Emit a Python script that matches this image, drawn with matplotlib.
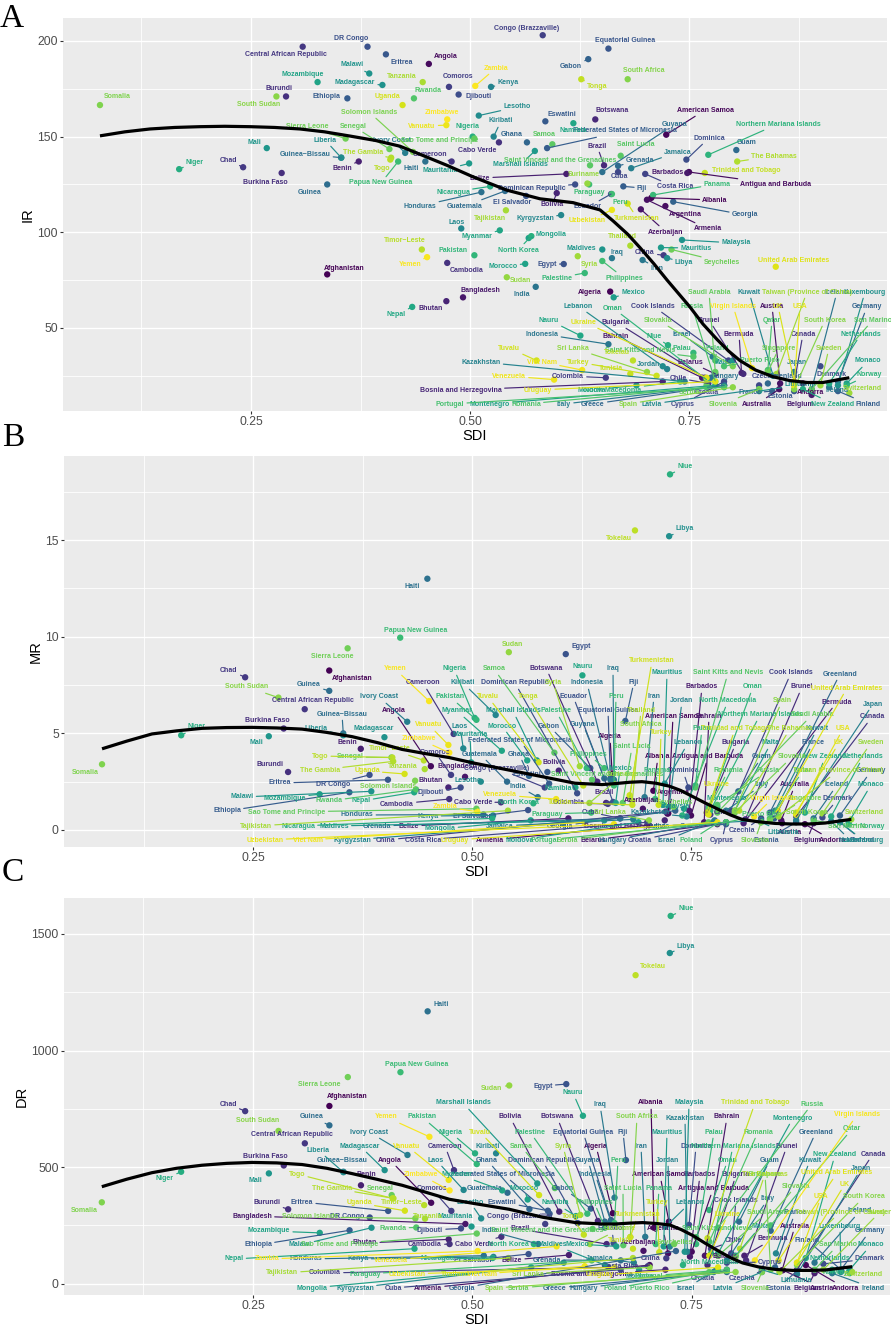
import math
import matplotlib
matplotlib.use("Agg")
import matplotlib.pyplot as plt

W, H = 891, 1326
plt.rcParams['font.family'] = ['Liberation Sans', 'DejaVu Sans']

countries = [
    "Afghanistan", "Albania", "Algeria", "American Samoa", "Andorra", "Angola", "Antigua and Barbuda", "Argentina", "Armenia", "Australia",
    "Austria", "Azerbaijan", "Bahrain", "Bangladesh", "Barbados", "Belarus", "Belgium", "Belize", "Benin", "Bermuda",
    "Bhutan", "Bolivia", "Bosnia and Herzegovina", "Botswana", "Brazil", "Brunei", "Bulgaria", "Burkina Faso", "Burundi", "Cabo Verde",
    "Cambodia", "Cameroon", "Canada", "Central African Republic", "Chad", "Chile", "China", "Colombia", "Comoros", "Congo (Brazzaville)",
    "Cook Islands", "Costa Rica", "Croatia", "Cuba", "Cyprus", "Czechia", "Denmark", "Djibouti", "Dominica", "Dominican Republic",
    "DR Congo", "Ecuador", "Egypt", "El Salvador", "Equatorial Guinea", "Eritrea", "Estonia", "Eswatini", "Ethiopia", "Federated States of Micronesia",
    "Fiji", "Finland", "France", "Gabon", "Georgia", "Germany", "Ghana", "Greece", "Greenland", "Grenada",
    "Guam", "Guatemala", "Guinea", "Guinea\u2212Bissau", "Guyana", "Haiti", "Honduras", "Hungary", "Iceland", "India",
    "Indonesia", "Iran", "Iraq", "Ireland", "Israel", "Italy", "Ivory Coast", "Jamaica", "Japan", "Jordan",
    "Kazakhstan", "Kenya", "Kiribati", "Kuwait", "Kyrgyzstan", "Laos", "Latvia", "Lebanon", "Lesotho", "Liberia",
    "Libya", "Lithuania", "Luxembourg", "Madagascar", "Malawi", "Malaysia", "Maldives", "Mali", "Malta", "Marshall Islands",
    "Mauritania", "Mauritius", "Mexico", "Moldova", "Monaco", "Mongolia", "Montenegro", "Morocco", "Mozambique", "Myanmar",
    "Namibia", "Nauru", "Nepal", "Netherlands", "New Zealand", "Nicaragua", "Niger", "Nigeria", "Niue", "North Korea",
    "North Macedonia", "Northern Mariana Islands", "Norway", "Oman", "Pakistan", "Palau", "Palestine", "Panama", "Papua New Guinea", "Paraguay",
    "Peru", "Philippines", "Poland", "Portugal", "Puerto Rico", "Qatar", "Romania", "Russia", "Rwanda", "Saint Kitts and Nevis",
    "Saint Lucia", "Saint Vincent and the Grenadines", "Samoa", "San Marino", "Sao Tome and Principe", "Saudi Arabia", "Senegal", "Serbia", "Seychelles", "Sierra Leone",
    "Singapore", "Slovakia", "Slovenia", "Solomon Islands", "Somalia", "South Africa", "South Korea", "South Sudan", "Spain", "Sri Lanka",
    "Sudan", "Suriname", "Sweden", "Switzerland", "Syria", "Taiwan (Province of China)", "Tajikistan", "Tanzania", "Thailand", "The Bahamas",
    "The Gambia", "Timor\u2212Leste", "Togo", "Tokelau", "Tonga", "Trinidad and Tobago", "Tunisia", "Turkey", "Turkmenistan", "Tuvalu",
    "Uganda", "UK", "Ukraine", "United Arab Emirates", "Uruguay", "USA", "Uzbekistan", "Vanuatu", "Venezuela", "Viet Nam",
    "Virgin Islands", "Yemen", "Zambia", "Zimbabwe",
]

sdi = [
    .337, .707, .66, .724, .88, .453, .75, .723, .702, .853,
    .854, .695, .765, .492, .748, .78, .89, .61, .373, .81,
    .473, .599, .72, .643, .653, .812, .768, .285, .29, .533,
    .474, .479, .87, .309, .241, .772, .721, .655, .476, .583,
    .795, .70, .79, .669, .79, .83, .90, .487, .747, .62,
    .383, .661, .607, .564, .658, .404, .87, .586, .36, .588,
    .675, .92, .845, .635, .732, .92, .565, .79, .84, .669,
    .804, .54, .337, .353, .651, .449, .513, .775, .89, .575,
    .658, .697, .662, .91, .777, .79, .426, .684, .87, .725,
    .745, .524, .527, .846, .604, .49, .83, .72, .51, .353,
    .725, .83, .92, .40, .385, .742, .651, .268, .80, .574,
    .499, .718, .664, .69, .93, .567, .78, .563, .326, .534,
    .618, .626, .434, .91, .88, .523, .168, .503, .726, .57,
    .74, .772, .93, .77, .505, .755, .631, .709, .418, .636,
    .662, .651, .78, .79, .79, .84, .77, .78, .436, .755,
    .672, .637, .594, .89, .505, .78, .408, .77, .73, .358,
    .84, .80, .83, .435, .0776, .68, .87, .279, .80, .702,
    .542, .634, .90, .933, .623, .85, .541, .446, .683, .805,
    .41, .445, .409, .686, .627, .768, .683, .713, .68, .576,
    .423, .87, .77, .849, .78, .87, .662, .473, .596, .628,
    .822, .451, .506, .474,
]

ir = [
    78, 118, 69, 151, 21, 188, 131.5, 113.7, 117, 18,
    21, 112, 24, 66, 131, 26, 15, 130.5, 137, 26.5,
    64, 120.5, 22, 159, 135, 26, 24, 131, 171, 147,
    84, 137, 21, 197, 134, 21, 88, 24, 176, 203,
    33, 130.5, 20, 131.5, 22, 20, 30, 172, 138, 125,
    197, 120, 83.4, 119, 196, 193, 17, 158, 170, 144,
    124, 17, 17, 190.5, 116, 22, 147, 20, 21, 134.7,
    143, 121.6, 125, 139, 131.5, 137, 121, 24, 18, 71.5,
    41.5, 85.5, 86.5, 19, 35, 20, 141.5, 133.5, 27, 28.5,
    22, 176, 150, 25, 109, 102, 18, 30, 161, 139,
    86.5, 17, 20, 177, 183, 96, 91, 144, 33, 142.5,
    136, 92, 66, 20, 21, 97, 20, 83.5, 178.5, 101,
    157, 46, 61, 21, 18, 124, 133, 150, 41, 98,
    22, 140.5, 20, 23, 88, 37, 78.7, 119.5, 137, 125,
    120, 85, 33, 19, 30, 28, 19, 22, 170, 35,
    140, 135, 146, 18, 149, 27, 143.5, 20, 91, 149,
    27, 30, 18, 142, 166.5, 180, 18, 171, 19, 27,
    76.5, 125.5, 20, 16, 87.5, 26, 111.5, 178.5, 93, 137,
    139, 91, 138, 33, 180, 131, 26, 25, 115, 33,
    166.5, 22, 24, 82, 22, 20, 111.7, 156, 23, 28,
    29, 87, 176.5, 159,
]

mr = [
    8.25, 2.03, 2.9, .86, .3, 3.3, .75, .85, .25, .5,
    .35, 1.1, .4, 2.75, 1.0, .3, .35, .6, 4.2, .35,
    2.2, 3.07, .5, 2.5, 1.4, .55, .9, 5.25, 3.0, 1.43,
    1.6, 4.97, .7, 6.25, 7.9, .8, .95, 1.35, 2.85, 2.2,
    1.0, .4, .4, .6, .4, .6, .65, 2.2, 2.2, 1.9,
    2.85, 1.45, 9.1, 1.03, 2.67, 2.6, .4, 3.0, 1.95, 2.4,
    5.64, .4, .6, 3.2, 1.0, .75, 2.8, .3, .9, .6,
    2.0, 2.5, 7.2, 5.0, 2.67, 13.0, .8, .4, .6, 1.7,
    2.6, 1.7, 2.6, .45, .5, 1.0, 5.6, .55, .5, 1.2,
    .7, .75, 5.95, 1.0, .35, 4.22, .5, 2.4, 2.5, 4.9,
    15.2, .4, .4, 4.8, 2.0, 1.1, .5, 4.85, 1.0, 3.6,
    3.5, 1.3, 1.4, .4, .4, .5, 1.2, 3.6, 1.85, 4.1,
    2.2, 8.0, 1.95, .7, .9, .6, 4.9, 5.8, 18.4, 1.38,
    .75, 1.0, .3, 1.2, 5.7, 2.3, 3.2, 1.6, 9.95, .9,
    2.3, 3.2, .35, .4, .4, .6, 1.1, 1.3, 2.1, 2.2,
    1.4, 2.6, 4.0, .5, 1.1, .9, 3.75, .4, 1.2, 9.4,
    .5, .9, .4, 2.55, 3.4, 1.7, .8, 6.85, 1.0, .5,
    9.2, 1.4, .85, .55, 3.3, .7, 1.0, 3.15, 1.5, 1.0,
    3.55, 3.6, 3.75, 15.5, 2.3, .9, 1.3, 1.3, 1.8, 3.5,
    2.9, .9, .8, 1.0, .4, .8, .3, 4.4, 1.6, .4,
    .7, 6.67, .95, 4.0,
]

dr = [
    762, 240, 302, 266, 80, 347, 137, 130, 80, 58,
    58, 141, 120, 256, 116, 120, 45, 123, 422, 120,
    190, 309, 60, 269, 170, 100, 80, 507, 319, 201,
    170, 487, 60, 602, 740, 150, 109, 70, 312, 256,
    130, 75, 60, 60, 90, 55, 85, 237, 252, 260,
    284, 173, 856, 127, 273, 312, 55, 313, 229, 300,
    530, 60, 70, 322, 140, 60, 320, 50, 227, 100,
    266, 390, 679, 480, 266, 1168, 120, 50, 90, 170,
    266, 201, 369, 45, 55, 100, 552, 90, 40, 159,
    137, 115, 559, 130, 90, 402, 50, 244, 280, 478,
    1418, 60, 50, 487, 240, 137, 80, 473, 120, 430,
    245, 160, 160, 60, 60, 70, 130, 361, 218, 400,
    290, 720, 150, 60, 110, 110, 480, 559, 1577, 170,
    80, 130, 45, 316, 513, 170, 300, 170, 907, 100,
    260, 240, 55, 60, 55, 250, 180, 240, 241, 200,
    165, 235, 410, 60, 215, 120, 380, 50, 170, 886,
    60, 115, 50, 280, 349, 200, 80, 655, 50, 70,
    850, 170, 60, 50, 295, 50, 110, 279, 110, 150,
    366, 337, 366, 1323, 210, 195, 150, 135, 200, 380,
    313, 90, 120, 100, 70, 90, 70, 445, 160, 75,
    100, 630, 140, 400,
]

# smoothed trend lines
trend_sdi = [.0776, .106, .1347, .163, .1918, .22, .2489, .277, .3059, .334, .363, .392, .42, .447, .4737,
             .5034, .5422, .58, .6176, .6484, .6632, .68, .694, .71, .725, .738, .751, .766, .782, .795,
             .808, .826, .846, .865, .885, .903, .933]
trend_ir = [150.4, 152.5, 154, 154.8, 155.2, 155.4, 155.2, 154.8, 154, 152.5, 150.3, 148, 145, 140, 135,
            129, 122, 117.5, 115.5, 111.7, 106, 99, 92, 83.5, 75, 68, 61, 52, 44, 38,
            33, 28, 24.5, 22.5, 21.5, 21.5, 24]
trend_mr = [4.2, 4.6, 4.97, 5.13, 5.26, 5.3, 5.31, 5.28, 5.22, 5.05, 4.83, 4.52, 4.17, 3.95, 3.75,
            3.45, 3.1, 2.76, 2.42, 2.35, 2.4, 2.47, 2.5, 2.42, 2.27, 2.05, 1.75, 1.4, 1.05, .78,
            .55, .43, .34, .31, .31, .36, .55]
trend_dr = [416, 448, 476, 495, 508, 516, 520, 518, 511, 495, 472, 447, 422, 392, 362,
            343, 319, 285, 262, 256, 256, 260, 262, 258, 252, 232, 207, 172, 137, 110,
            89, 72, 61, 57, 57, 59, 73]

# label centres in picture pixels (ggrepel output, same order as countries)
ir_labels = [
    (344,268),(715,200),(590,292),(705,110),(810,392),(446,56),(776,184),(685,214),(708,229),(757,404),
    (772,306),(666,232),(616,336),(480,290),(668,173),(690,362),(800,404),(480,178),(342,168),(739,334),
    (431,309),(552,205),(461,390),(612,111),(597,146),(709,320),(616,322),(265,182),(279,88),(477,151),
    (467,271),(430,154),(803,334),(286,55),(228,160),(678,378),(645,253),(568,376),(458,77),(527,28),
    (653,306),(675,187),(707,392),(619,177),(683,404),(765,377),(832,374),(479,97),(709,138),(532,188),
    (351,39),(588,207),(547,264),(512,203),(625,40),(402,62),(780,396),(562,114),(326,97),(625,131),
    (642,188),(868,404),(750,393),(571,67),(745,215),(867,307),(512,135),(593,404),(785,377),(640,160),
    (747,142),(465,206),(310,192),(305,154),(675,124),(411,169),(420,206),(725,377),(837,292),(522,295),
    (542,334),(657,268),(617,252),(837,390),(682,334),(564,404),(392,140),(678,152),(797,363),(649,364),
    (481,362),(508,83),(501,121),(749,292),(535,219),(457,222),(652,404),(578,306),(517,107),(325,140),
    (684,262),(800,385),(865,292),(355,83),(352,65),(736,243),(581,248),(254,142),(723,362),(520,165),
    (440,171),(696,248),(633,292),(592,390),(868,361),(551,234),(490,404),(503,266),(303,74),(477,237),
    (573,131),(549,320),(396,315),(861,334),(833,404),(453,192),(195,162),(467,126),(654,336),(518,250),
    (613,390),(778,124),(869,375),(613,308),(453,251),(682,348),(557,278),(717,184),(381,183),(589,192),
    (620,202),(624,278),(717,348),(450,404),(760,360),(772,320),(526,404),(692,306),(428,91),(640,350),
    (636,145),(560,160),(544,135),(873,320),(440,140),(709,292),(353,126),(690,392),(722,262),(307,127),
    (779,348),(658,320),(723,404),(369,112),(117,97),(644,71),(825,320),(259,105),(628,404),(573,348),
    (521,280),(584,174),(829,348),(862,389),(589,264),(807,292),(490,219),(402,76),(622,237),(774,156),
    (363,153),(405,241),(382,168),(617,352),(597,87),(746,170),(611,369),(578,362),(637,218),(509,348),
    (387,97),(778,306),(584,322),(794,260),(538,390),(800,307),(587,221),(422,126),(509,376),(542,362),
    (733,306),(410,265),(496,68),(442,112),
]
mr_labels = [
    (352,679),(658,757),(610,737),(673,716),(832,840),(394,711),(708,757),(673,793),(490,840),(795,785),
    (790,833),(642,801),(709,716),(457,767),(702,687),(593,840),(807,840),(409,826),(347,743),(837,702),
    (431,780),(554,762),(625,826),(546,668),(604,793),(802,687),(736,743),(267,721),(270,764),(473,802),
    (397,804),(423,683),(872,717),(313,700),(229,670),(722,813),(386,840),(569,803),(435,752),(497,768),
    (791,673),(423,840),(640,840),(590,812),(722,840),(742,831),(838,799),(431,793),(683,771),(515,683),
    (333,784),(573,696),(581,647),(472,817),(608,710),(280,783),(766,840),(527,775),(227,811),(520,740),
    (634,682),(862,840),(813,743),(549,726),(560,826),(871,771),(519,754),(692,827),(840,674),(377,826),
    (762,757),(480,754),(309,685),(342,714),(583,724),(412,586),(357,815),(613,840),(837,785),(518,786),
    (587,683),(654,696),(613,669),(850,840),(667,840),(762,785),(379,697),(500,826),(873,704),(682,701),
    (650,813),(428,816),(463,683),(817,729),(352,840),(460,726),(660,826),(688,743),(468,781),(316,728),
    (685,529),(783,832),(863,840),(374,728),(242,797),(675,807),(334,826),(256,742),(771,743),(513,711),
    (470,735),(667,673),(620,769),(520,840),(871,785),(440,829),(727,799),(502,726),(285,798),(457,711),
    (558,789),(583,667),(361,801),(863,757),(825,757),(298,826),(197,727),(454,669),(685,467),(518,803),
    (728,701),(760,715),(872,826),(753,687),(450,697),(702,729),(556,711),(657,771),(416,630),(547,814),
    (616,696),(588,754),(691,840),(545,840),(762,815),(803,771),(728,771),(768,771),(329,801),(728,673),
    (632,747),(607,775),(494,669),(847,826),(287,812),(812,715),(350,757),(568,840),(675,803),(332,656),
    (805,799),(792,757),(755,840),(388,787),(85,773),(641,724),(807,813),(247,687),(782,701),(610,813),
    (513,644),(623,775),(871,743),(864,812),(553,682),(838,771),(256,826),(403,767),(641,710),(790,729),
    (320,770),(390,749),(320,756),(619,539),(528,697),(735,729),(560,802),(661,733),(652,661),(488,697),
    (367,771),(839,743),(717,785),(847,688),(455,840),(843,729),(265,840),(429,725),(500,795),(308,840),
    (773,798),(395,669),(445,807),(419,739),
]
dr_labels = [
    (347,1097),(651,1103),(596,1146),(660,1175),(845,1288),(390,1160),(713,1189),(663,1229),(428,1288),(795,1226),
    (822,1288),(639,1243),(727,1117),(252,1216),(700,1175),(725,1257),(807,1288),(512,1260),(366,1175),(773,1239),
    (365,1243),(510,1117),(592,1274),(557,1117),(520,1229),(787,1146),(736,1175),(265,1157),(267,1202),(474,1244),
    (425,1245),(445,1146),(873,1154),(292,1135),(228,1104),(733,1241),(651,1258),(325,1273),(432,1189),(520,1216),
    (736,1200),(620,1267),(703,1279),(393,1288),(770,1262),(742,1279),(870,1259),(430,1230),(696,1146),(542,1160),
    (347,1217),(612,1229),(543,1086),(473,1260),(583,1132),(302,1202),(778,1288),(502,1202),(258,1245),(503,1174),
    (623,1132),(807,1240),(795,1213),(563,1188),(462,1288),(870,1231),(487,1160),(555,1288),(816,1132),(547,1260),
    (770,1160),(485,1188),(312,1117),(342,1161),(588,1160),(441,1004),(306,1259),(584,1288),(860,1211),(490,1231),
    (595,1174),(641,1146),(600,1105),(873,1288),(686,1288),(768,1199),(369,1132),(600,1258),(861,1169),(668,1160),
    (685,1118),(358,1259),(488,1146),(810,1160),(355,1288),(436,1160),(723,1288),(690,1203),(470,1202),(318,1150),
    (686,946),(796,1280),(840,1226),(360,1146),(300,1245),(689,1103),(552,1244),(255,1180),(760,1227),(463,1103),
    (455,1216),(667,1132),(577,1244),(640,1276),(871,1245),(312,1288),(793,1118),(524,1188),(269,1231),(457,1174),
    (555,1203),(573,1093),(234,1259),(830,1259),(835,1155),(437,1259),(165,1179),(450,1132),(686,909),(508,1244),
    (710,1263),(733,1146),(835,1273),(728,1160),(422,1117),(714,1132),(530,1132),(659,1188),(417,1064),(365,1274),
    (618,1160),(594,1202),(615,1288),(649,1276),(650,1288),(852,1129),(758,1132),(812,1104),(393,1228),(717,1228),
    (623,1188),(547,1231),(521,1146),(838,1245),(340,1245),(768,1212),(380,1188),(519,1288),(675,1242),(319,1084),
    (765,1174),(796,1186),(755,1288),(310,1217),(84,1211),(637,1117),(864,1197),(258,1121),(494,1288),(528,1274),
    (492,1088),(620,1229),(880,1212),(863,1274),(563,1146),(840,1212),(282,1273),(428,1216),(455,1274),(765,1174),
    (332,1188),(402,1203),(297,1174),(653,967),(572,1217),(755,1103),(620,1240),(657,1203),(638,1215),(480,1132),
    (359,1203),(845,1184),(728,1214),(837,1173),(600,1275),(821,1197),(407,1274),(407,1146),(391,1260),(482,1274),
    (857,1115),(386,1117),(267,1259),(421,1175),
]

assert len(countries) == 204
for series in (sdi, ir, mr, dr, ir_labels, mr_labels, dr_labels):
    assert len(series) == 204

viridis = plt.get_cmap("viridis")
colours = [viridis(i / 203) for i in range(204)]


def draw_panel(fig, box, xlim, ylim, yvals, labels, trend, yname, yticks, yminor, yname_x):
    left, top, right, bottom = box
    ax = fig.add_axes([left / W, 1 - bottom / H, (right - left) / W, (bottom - top) / H])
    ax.set_facecolor("#EBEBEB")
    ax.set_xlim(xlim)
    ax.set_ylim(ylim)
    for s in ax.spines.values():
        s.set_visible(False)
    ax.set_xticks([.25, .5, .75])
    ax.set_xticklabels(["0.25", "0.50", "0.75"])
    ax.set_xticks([.125, .375, .625, .875], minor=True)
    ax.set_yticks(yticks)
    ax.set_yticks(yminor, minor=True)
    ax.tick_params(which="major", length=2.2, width=0.8, color="#333333", labelcolor="#4D4D4D", labelsize=8.8, pad=1.5)
    ax.tick_params(which="minor", length=0)
    ax.grid(True, which="major", color="white", linewidth=1.0)
    ax.grid(True, which="minor", color="white", linewidth=0.6)
    ax.set_axisbelow(True)

    ax.scatter(sdi, yvals, s=21, c=colours, linewidths=0, zorder=3)

    for name, x, y, c, (lx, ly) in zip(countries, sdi, yvals, colours, labels):
        px, py = ax.transData.transform((x, y))
        py = H - py
        half = len(name) * 1.9
        dx = max(0, abs(lx - px) - half)
        dy = max(0, abs(ly - py) - 4)
        arrow = None
        if math.hypot(dx, dy) > 7:
            arrow = dict(arrowstyle="-", color=c, lw=0.85, shrinkA=0, shrinkB=0)
        ax.annotate(name, xy=(x, y), xytext=(lx, H - ly), textcoords="figure pixels",
                    ha="center", va="center", fontsize=5.05, fontweight="bold", color=c,
                    arrowprops=arrow, annotation_clip=False, zorder=4)

    ax.plot(trend_sdi, trend, color="black", linewidth=2.3, zorder=5, solid_capstyle="butt", solid_joinstyle="round")

    fig.text((left + right) / 2 / W, 1 - (bottom + 25.5) / H, "SDI", ha="center", va="center", fontsize=10.5)
    fig.text(yname_x / W, 1 - (top + bottom) / 2 / H, yname, ha="center", va="center", rotation=90, fontsize=10.5)
    return ax


fig = plt.figure(figsize=(W / 100, H / 100), dpi=100)

draw_panel(fig, (63, 18, 887, 411), (.0354, .976), (6.6, 212), ir, ir_labels, trend_ir, "IR",
           [50, 100, 150, 200], [25, 75, 125, 175], 28)
draw_panel(fig, (64, 456, 889, 847), (.0342, .976), (-.88, 19.35), mr, mr_labels, trend_mr, "MR",
           [0, 5, 10, 15], [2.5, 7.5, 12.5, 17.5], 36)
draw_panel(fig, (64, 898, 890, 1295), (.0345, .976), (-48.5, 1654), dr, dr_labels, trend_dr, "DR",
           [0, 500, 1000, 1500], [250, 750, 1250], 22)

for letter, x, y in [("A", 12, 19), ("B", 13, 438), ("C", 13, 873)]:
    fig.text(x / W, 1 - y / H, letter, ha="center", va="center", fontsize=24, family="Liberation Serif")

fig.savefig("out.png", dpi=100)
